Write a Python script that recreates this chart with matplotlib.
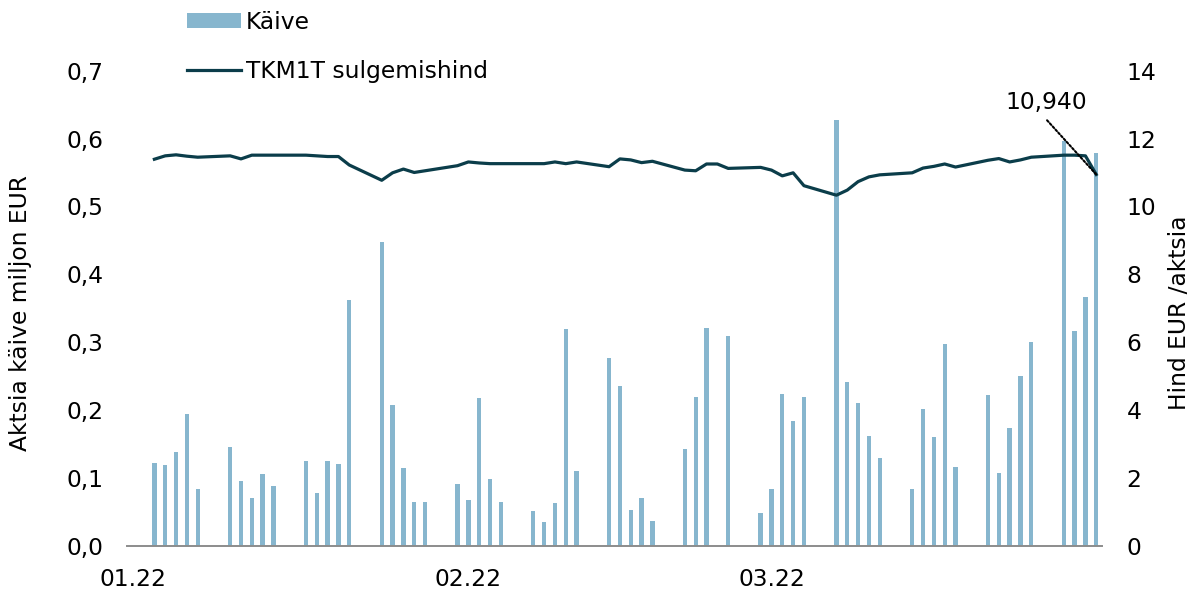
import numpy as np
import pandas as pd
from matplotlib import pyplot as plt
import matplotlib.dates as mdates
from matplotlib.ticker import FuncFormatter, MultipleLocator

plt.rcParams['font.family'] = ['DejaVu Sans']
plt.rcParams['font.size'] = 16.8

# trading days jan-mar 2022 (Feb 24 closed: no turnover, price carried)
days = pd.bdate_range('2022-01-03', '2022-03-31')

turnover_jan = [0.122, 0.119, 0.138, 0.194, 0.083, 0.145, 0.096, 0.070, 0.105, 0.088,
                0.125, 0.077, 0.125, 0.120, 0.362, 0.448, 0.207, 0.114, 0.064, 0.064,
                0.091]
turnover_feb = [0.068, 0.217, 0.098, 0.064, 0.051, 0.035, 0.063, 0.319, 0.110, 0.277,
                0.236, 0.053, 0.070, 0.037, 0.142, 0.219, 0.321, np.nan, 0.309, 0.048]
turnover_mar = [0.084, 0.223, 0.184, 0.219, 0.628, 0.241, 0.211, 0.162, 0.129, 0.083,
                0.201, 0.160, 0.297, 0.116, 0.222, 0.107, 0.174, 0.250, 0.300, 0.596,
                0.316, 0.366, 0.578]

price_jan = [11.39, 11.49, 11.52, 11.48, 11.45, 11.49, 11.40, 11.51, 11.51, 11.51,
             11.51, 11.49, 11.47, 11.47, 11.22, 10.77, 10.99, 11.10, 11.00, 11.05,
             11.20]
price_feb = [11.31, 11.28, 11.26, 11.26, 11.26, 11.26, 11.31, 11.26, 11.31, 11.17,
             11.40, 11.37, 11.29, 11.33, 11.07, 11.05, 11.25, 11.25, 11.12, 11.15]
price_mar = [11.07, 10.90, 10.99, 10.61, 10.33, 10.48, 10.73, 10.87, 10.93, 10.99,
             11.13, 11.18, 11.25, 11.16, 11.36, 11.41, 11.31, 11.37, 11.45, 11.51,
             11.51, 11.49, 10.94]

turnover = np.array(turnover_jan + turnover_feb + turnover_mar)
price = np.array(price_jan + price_feb + price_mar)
last_label = '10,940'

bar_color = '#87b6ce'
line_color = '#0b3d4a'

fig = plt.figure(figsize=(11.91, 5.90), dpi=100)
ax = fig.add_axes([0.1069, 0.0751, 0.8181, 0.8051])
ax2 = ax.twinx()

bars = ax.bar(days, turnover, width=0.4, color=bar_color, label='Käive')
line, = ax2.plot(days, price, color=line_color, lw=2.3, label='TKM1T sulgemishind')

ax.set_xlim(pd.Timestamp('2022-01-01') - pd.Timedelta(hours=12),
            pd.Timestamp('2022-03-31') + pd.Timedelta(hours=12))
ax.set_ylim(0, 0.7)
ax2.set_ylim(0, 14)
ax.yaxis.set_major_locator(MultipleLocator(0.1))
ax2.yaxis.set_major_locator(MultipleLocator(2))
ax.yaxis.set_major_formatter(FuncFormatter(lambda v, p: f'{v:.1f}'.replace('.', ',')))
ax.xaxis.set_major_locator(mdates.MonthLocator())
ax.xaxis.set_major_formatter(mdates.DateFormatter('%m.%y'))

for a in (ax, ax2):
    for s in ('top', 'left', 'right'):
        a.spines[s].set_visible(False)
ax2.spines['bottom'].set_visible(False)
ax.spines['bottom'].set_color('#8c8c8c')
ax.spines['bottom'].set_linewidth(1.4)

ax.tick_params(axis='y', length=0, pad=17)
ax.tick_params(axis='x', length=0, pad=16)
ax2.tick_params(axis='y', length=0, pad=18)

ax.set_ylabel('Aktsia käive miljon EUR')
ax.yaxis.set_label_coords(-0.098, 0.49)
ax2.set_ylabel('Hind EUR /aktsia')
ax2.yaxis.set_label_coords(1.068, 0.49)

ax2.annotate(last_label, xy=(days[-1], price[-1]),
             xytext=(pd.Timestamp('2022-03-26 10:00'), 13.05),
             ha='center', va='center',
             arrowprops=dict(arrowstyle='-', linestyle=(0, (1, 1)), color='black',
                             lw=1.5, relpos=(0.44, 0), shrinkA=3, shrinkB=0))

fig.legend(handles=[bars, line], loc='upper left',
           bbox_to_anchor=(187 / 1191, 1 - 11 / 590), frameon=False,
           borderpad=0, borderaxespad=0, handlelength=2.3, handletextpad=0.22,
           labelspacing=1.12, handleheight=0.6)

fig.savefig('out.png', dpi=100)
